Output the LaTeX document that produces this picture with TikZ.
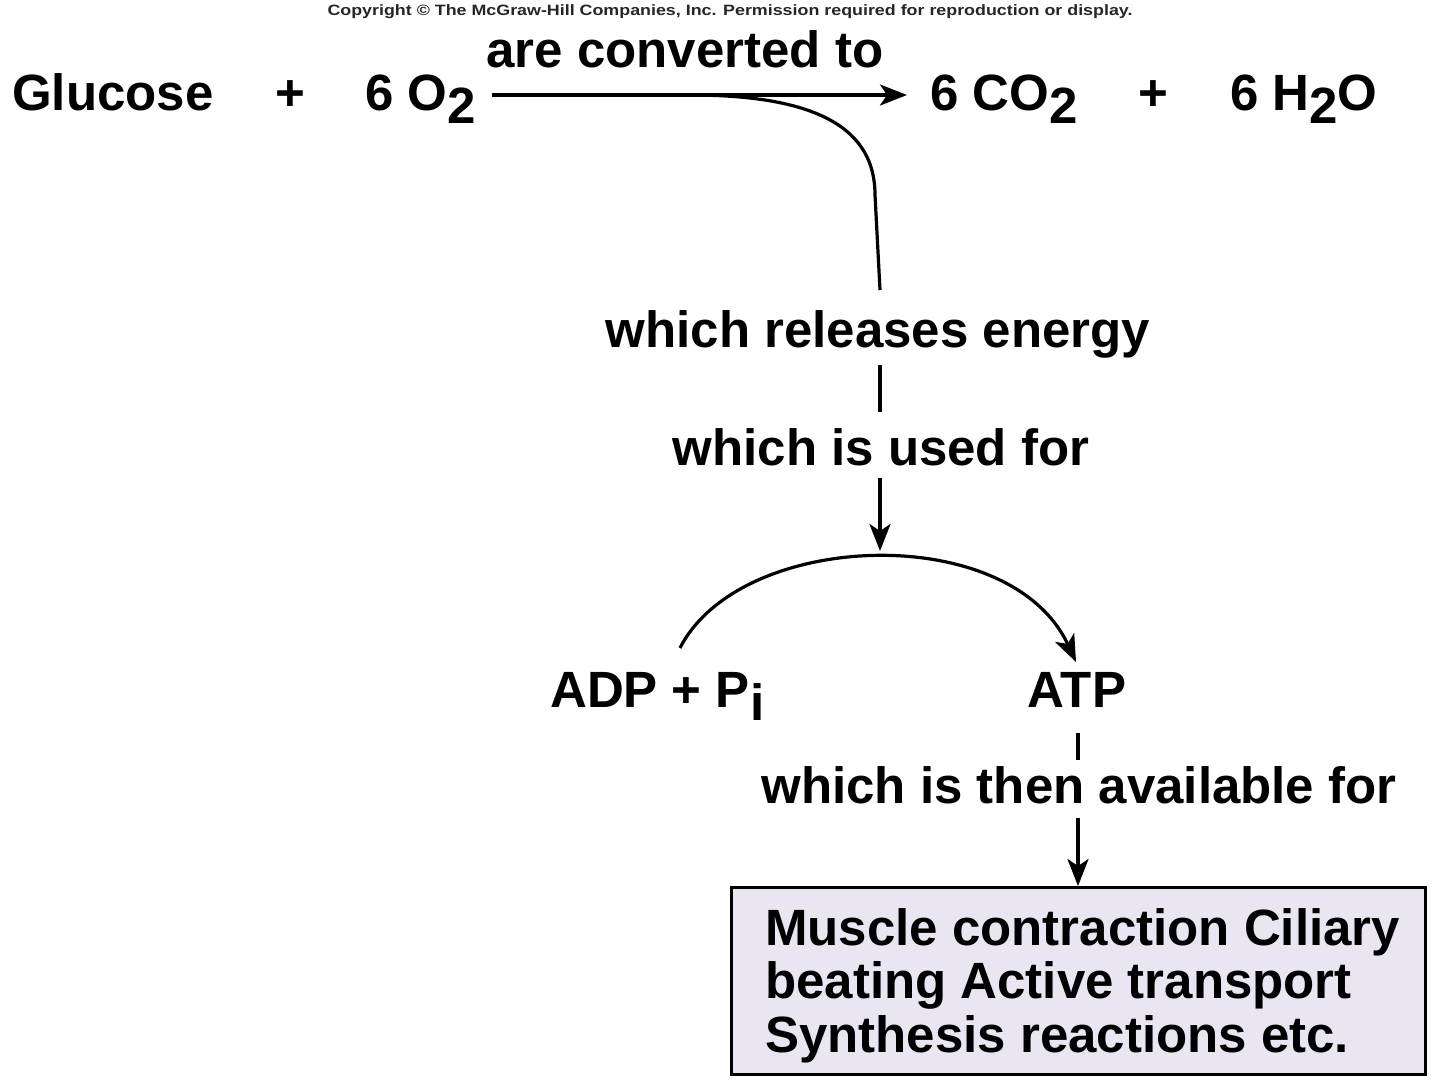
\documentclass[tikz,border=0pt]{standalone}
\usepackage{fontspec}
\setmainfont{Liberation Sans}
\usetikzlibrary{arrows.meta}
\definecolor{boxfill}{HTML}{E9E6F1}
\newcommand{\lowered}[1]{\raisebox{-0.27em}{#1}}
\begin{document}
\begin{tikzpicture}[x=1pt,y=-1pt,
  lbl/.style={font=\fontsize{51}{54}\selectfont\bfseries, inner sep=0pt},
  conn/.style={line width=3.2pt},
  arr/.style={conn, -{Stealth[length=27pt,width=21pt,inset=7pt]}}]
\useasboundingbox (0,0) rectangle (1440,1080);
\node[font=\fontsize{15}{17}\selectfont\bfseries, inner sep=0pt, text=black!85, xscale=1.19, anchor=base] (copy) at (730,15) {Copyright \textcopyright{} The McGraw-Hill Companies, Inc. Permission required for reproduction or display.};
\node[lbl, anchor=base west] (glu) at (12,110) {Glucose};
\node[lbl, anchor=base] (p1) at (290,110) {+};
\node[lbl, anchor=base west] (o2) at (365,110) {6 O\lowered{2}};
\node[lbl, anchor=base] (conv) at (685,67) {are converted to};
\node[lbl, anchor=base west] (co2) at (930,110) {6 CO\lowered{2}};
\node[lbl, anchor=base] (p2) at (1153,110) {+};
\node[lbl, anchor=base west] (h2o) at (1230,110) {6 H\lowered{2}O};
\node[lbl, anchor=base] (rel) at (878,347) {which releases energy};
\node[lbl, anchor=base] (used) at (881,465) {which is used for};
\node[lbl, anchor=base west] (adp) at (550,707) {ADP + P\lowered{i}};
\node[lbl, anchor=base] (atp) at (1077,707) {ATP};
\node[lbl, anchor=base] (avail) at (1079,803) {which is then available for};
\node[draw, line width=3pt, fill=boxfill, minimum width=694pt, minimum height=187pt, inner sep=0pt] (box) at (1078,981) {};
\node[lbl, anchor=north west, align=left, font=\fontsize{51}{53.5}\selectfont\bfseries] (boxtext) at (765,908) {Muscle contraction Ciliary\\beating Active transport\\Synthesis reactions etc.};
\coordinate (arrS) at (492,95);
\coordinate (arrE) at (907,95);
\coordinate (j) at (690,95);
\coordinate (bend) at (875,195);
\coordinate (relTop) at (880,290);
\coordinate (relBot) at (880,365);
\coordinate (usedTop) at (880,412);
\coordinate (usedBot) at (880,478);
\coordinate (arcTop) at (880,551);
\coordinate (adpS) at (680,648);
\coordinate (atpN) at (1076,662);
\coordinate (atpS) at (1078,733);
\coordinate (availTop) at (1078,760);
\coordinate (availBot) at (1078,818);
\draw[arr] (arrS) -- (arrE);
\draw[conn] (j) .. controls (820,95) and (875,130) .. (bend) -- (relTop);
\draw[conn] (relBot) -- (usedTop);
\draw[arr] (usedBot) -- (arcTop);
\draw[arr] (adpS) .. controls (740,530) and (1010,520) .. (atpN);
\draw[conn] (atpS) -- (availTop);
\draw[arr] (availBot) -- (box.north -| availBot);
\end{tikzpicture}
\end{document}
